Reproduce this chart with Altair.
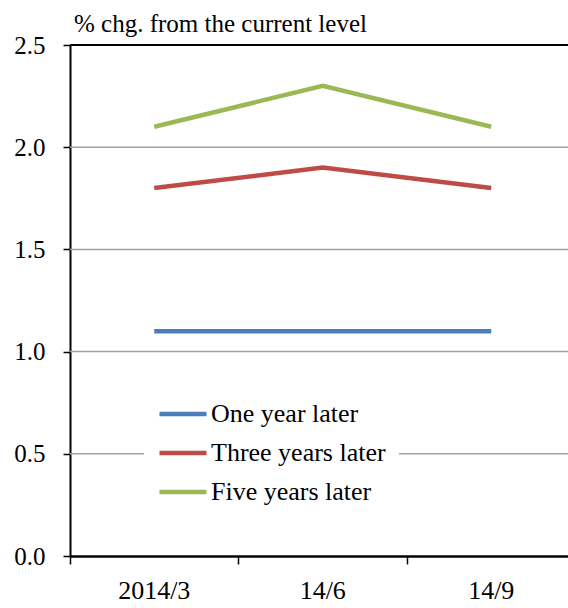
import altair as alt
import pandas as pd

# Survey periods and expected % change from the current level
periods = ["2014/3", "14/6", "14/9"]
series_names = ["One year later", "Three years later", "Five years later"]
one_year = [1.1, 1.1, 1.1]
three_years = [1.8, 1.9, 1.8]
five_years = [2.1, 2.3, 2.1]
colors = ["#4A7EBB", "#BE4B48", "#98B954"]
y_ticks = [0.0, 0.5, 1.0, 1.5, 2.0, 2.5]
grid_values = [0.5, 1.0, 1.5, 2.0]
top_value = [2.5]

rows = []
for name, vals in zip(series_names, [one_year, three_years, five_years]):
    for p, v in zip(periods, vals):
        rows.append({"period": p, "series": name, "value": v})
df = pd.DataFrame(rows)

FONT = "'Liberation Serif', 'Times New Roman', 'DejaVu Serif', serif"
BAND = 168.5

x_scale = alt.Scale(type="band", domain=periods, range=[0, 3 * BAND],
                    paddingInner=0, paddingOuter=0)
y_scale = alt.Scale(domain=[0, 2.5], nice=False, zero=True)

y_axis = alt.Axis(
    title=None, values=y_ticks, format=".1f", grid=False,
    labelFont=FONT, labelFontSize=25, labelColor="black", labelPadding=18,
    tickSize=7, tickColor="black", tickWidth=1.5,
    domainColor="black", domainWidth=2,
)
x_axis = alt.Axis(
    title=None, labelAngle=0, grid=False, bandPosition=0,
    labelFont=FONT, labelFontSize=26, labelColor="black", labelPadding=13,
    tickSize=8, tickColor="black", tickWidth=1.5,
    domainColor="black", domainWidth=2.5,
)

grid = alt.Chart(pd.DataFrame({"v": grid_values})).mark_rule(
    color="#A0A0A0", strokeWidth=1.5
).encode(y=alt.Y("v:Q", scale=y_scale, axis=y_axis))

top = alt.Chart(pd.DataFrame({"v": top_value})).mark_rule(
    color="black", strokeWidth=2
).encode(y=alt.Y("v:Q", scale=y_scale, axis=y_axis))

lines = alt.Chart(df).mark_line(strokeWidth=4.5).encode(
    x=alt.X("period:N", scale=x_scale, sort=periods, bandPosition=0.5, axis=x_axis),
    y=alt.Y("value:Q", scale=y_scale, axis=y_axis),
    color=alt.Color(
        "series:N",
        sort=series_names,
        scale=alt.Scale(domain=series_names, range=colors),
        legend=alt.Legend(
            title=None, orient="none", legendX=74, legendY=330,
            fillColor="white", padding=13,
            symbolType="stroke", symbolSize=2209, symbolStrokeWidth=4.5,
            labelFont=FONT, labelFontSize=26, labelColor="black",
            labelOffset=2, rowPadding=-3.5, labelLimit=400,
        ),
    ),
)

chart = alt.layer(grid, top, lines).properties(
    width=498,
    height=511,
    autosize=alt.AutoSizeParams(type="none"),
    padding={"left": 70, "top": 45, "right": 0, "bottom": 52},
    title=alt.TitleParams(
        "% chg. from the current level", anchor="start", frame="group",
        font=FONT, fontSize=25, fontWeight="normal", color="black",
        baseline="alphabetic", offset=0, dx=4, dy=24,
    ),
).configure_view(stroke=None).configure(background="white")

chart.save("out.html", embed_options={"renderer": "svg", "actions": False})
